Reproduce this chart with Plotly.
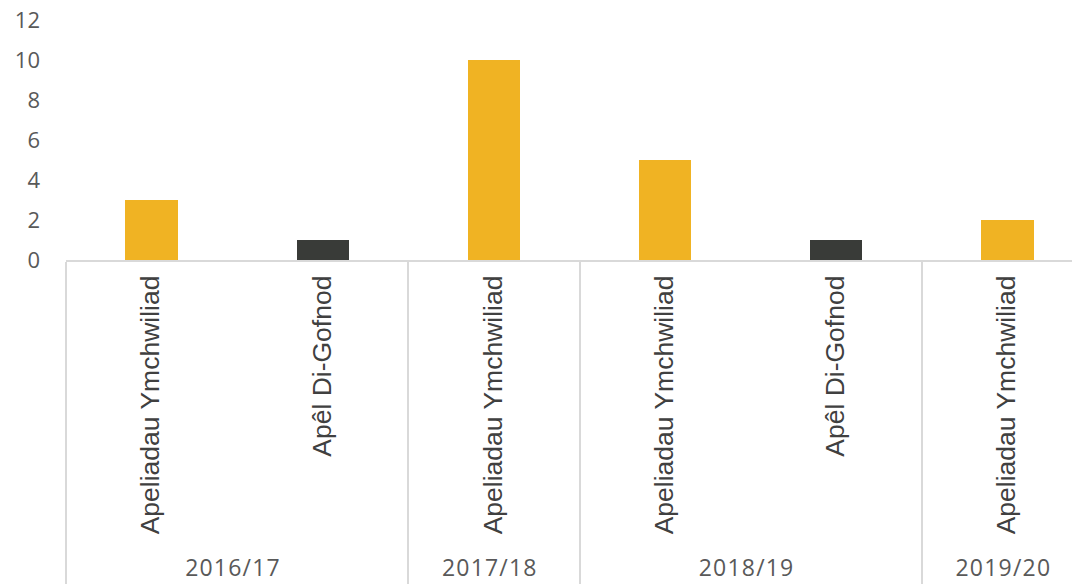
import plotly.graph_objects as go

years = ["2016/17", "2016/17", "2017/18", "2018/19", "2018/19", "2019/20"]
appeal_types = ["Apeliadau Ymchwiliad", "Apêl Di-Gofnod", "Apeliadau Ymchwiliad",
                "Apeliadau Ymchwiliad", "Apêl Di-Gofnod", "Apeliadau Ymchwiliad"]
values = [3, 1, 10, 5, 1, 2]
type_colors = {"Apeliadau Ymchwiliad": "#F0B323", "Apêl Di-Gofnod": "#393B38"}

year_labels = ['<span style="font-family:\'Open Sans\';font-size:23px;letter-spacing:1.2px;color:#595959">%s</span>' % y
               for y in years]
type_labels = ['<span style="font-size:26.5px">%s</span>' % t for t in appeal_types]

fig = go.Figure(go.Bar(
    x=[year_labels, type_labels],
    y=values,
    marker=dict(color=[type_colors[t] for t in appeal_types], line=dict(width=0)),
    width=0.305,
))

# page body has an 8px default margin, so the figure is sized to fill the rest
fig.update_layout(
    width=1072, height=577,
    margin=dict(l=58, r=0, t=12, b=325),
    paper_bgcolor="white", plot_bgcolor="white",
    showlegend=False,
    bargap=0,
)
fig.update_xaxes(
    type="multicategory",
    range=[-0.5, 5.423],
    tickangle=-90,
    tickfont=dict(family="Liberation Sans, Arial", size=24, color="#404040"),
    ticklabelstandoff=4,
    showline=True, linecolor="#D9D9D9", linewidth=2,
    dividercolor="#D9D9D9", dividerwidth=2,
    showgrid=False, zeroline=False, automargin=False,
)
fig.update_yaxes(
    range=[0, 12], dtick=2,
    showgrid=False, zeroline=False, showline=False,
    tickfont=dict(family="Open Sans", size=22, color="#595959"),
    ticklabelstandoff=25,
    ticklabeloverflow="allow",
    automargin=False,
)

fig.write_html("out.html")
